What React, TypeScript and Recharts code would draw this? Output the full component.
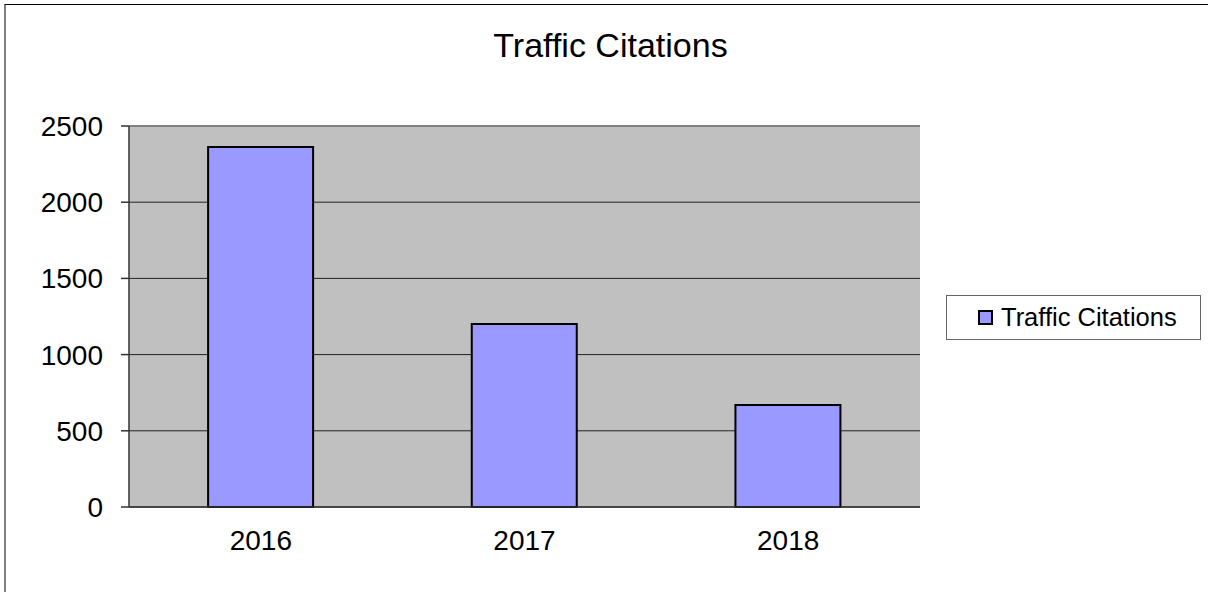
import React from 'react';
import { BarChart, Bar, XAxis, YAxis, CartesianGrid, ReferenceLine } from 'recharts';

const years = ['2016', '2017', '2018'];
const citations = [2363, 1200, 670];
const yTicks = [0, 500, 1000, 1500, 2000, 2500];
const seriesName = 'Traffic Citations';
const title = 'Traffic Citations';

const data = years.map((year, i) => ({ year, value: citations[i] }));

const font = '"Liberation Sans", Arial, sans-serif';

const App = () => {
  return (
    <div style={{ position: 'absolute', left: 0, top: 0, width: 1208, height: 592, background: '#fff', overflow: 'hidden', fontFamily: font }}>
      {/* outer frame, cut off at right and bottom like the source */}
      <div style={{ position: 'absolute', left: 4, top: 4, width: 1230, height: 620, borderTop: '1px solid #000', borderLeft: '2px solid #808080' }} />
      <div style={{ position: 'absolute', left: 0, width: 1221, top: 26, textAlign: 'center', fontSize: 34, color: '#000' }}>
        {title}
      </div>
      <div style={{ position: 'absolute', left: 0, top: 0 }}>
        <BarChart
          width={1208}
          height={592}
          data={data}
          margin={{ top: 126, right: 288, bottom: 0, left: 0 }}
          barCategoryGap="30%"
        >
          <CartesianGrid vertical={false} fill="#c0c0c0" stroke="#222" strokeOpacity={1} />
          <XAxis
            xAxisId="edges"
            type="number"
            domain={[0, 3]}
            ticks={[0, 1, 2, 3]}
            tick={false}
            axisLine={false}
            tickLine={{ stroke: '#333', strokeWidth: 1.5 }}
            tickSize={8}
            height={0}
          />
          <XAxis
            dataKey="year"
            height={85}
            tickLine={false}
            tickSize={8}
            tickMargin={15}
            axisLine={{ stroke: '#333', strokeWidth: 1.5 }}
            tick={{ fill: '#000', fontSize: 28, fontFamily: font }}
          />
          <YAxis
            domain={[0, 2500]}
            ticks={yTicks}
            width={129}
            tickSize={8}
            tickMargin={18}
            axisLine={{ stroke: '#333', strokeWidth: 1.5 }}
            tickLine={{ stroke: '#333', strokeWidth: 1.5 }}
            tick={{ fill: '#000', fontSize: 28, fontFamily: font }}
          />
          <ReferenceLine y={2500} stroke="#808080" strokeWidth={2} />
          <ReferenceLine xAxisId="edges" x={3} stroke="#808080" strokeWidth={2} />
          <Bar dataKey="value" name={seriesName} fill="#9999ff" stroke="#000" strokeWidth={2} isAnimationActive={false} />
        </BarChart>
      </div>
      <div
        style={{
          position: 'absolute',
          left: 946,
          top: 295,
          width: 253,
          height: 43,
          border: '1px solid #666',
          background: '#fff',
          display: 'flex',
          alignItems: 'center',
          boxSizing: 'content-box',
        }}
      >
        <div style={{ marginLeft: 31, width: 11, height: 11, background: '#9999ff', border: '2px solid #000' }} />
        <span style={{ marginLeft: 8, fontSize: 25.5, color: '#000' }}>{seriesName}</span>
      </div>
    </div>
  );
};

export default App;
